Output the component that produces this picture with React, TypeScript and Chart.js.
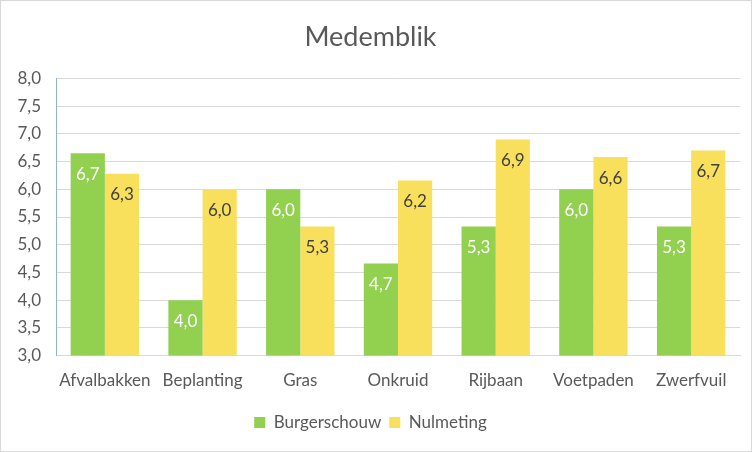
import React, { useEffect, useRef } from "react";
import { Chart, registerables } from "chart.js";

Chart.register(...registerables);

const categories = ["Afvalbakken", "Beplanting", "Gras", "Onkruid", "Rijbaan", "Voetpaden", "Zwerfvuil"];
const burgerschouw = [6.65, 4.0, 6.0, 4.66, 5.33, 6.0, 5.33];
const nulmeting = [6.28, 6.0, 5.33, 6.16, 6.9, 6.58, 6.7];
const seriesNames = ["Burgerschouw", "Nulmeting"];
const chartTitle = "Medemblik";

const FONT = "Lato, 'Open Sans', sans-serif";
const fmt = (v: number) => v.toFixed(1).replace(".", ",");

const labelPlugin = {
  id: "barLabels",
  afterDatasetsDraw(chart: any) {
    const ctx = chart.ctx;
    ctx.save();
    ctx.font = `17px ${FONT}`;
    ctx.textAlign = "center";
    ctx.textBaseline = "middle";
    chart.data.datasets.forEach((ds: any, di: number) => {
      const meta = chart.getDatasetMeta(di);
      meta.data.forEach((bar: any, i: number) => {
        ctx.fillStyle = di === 0 ? "#FFFFFF" : "#404040";
        ctx.fillText(fmt(ds.data[i]), bar.x, bar.y + 21);
      });
    });
    ctx.restore();
  },
};

export default function App() {
  const ref = useRef<HTMLCanvasElement>(null);
  useEffect(() => {
    document.body.style.margin = "0";
    const chart = new Chart(ref.current!, {
      type: "bar",
      data: {
        labels: categories,
        datasets: [
          { label: seriesNames[0], data: burgerschouw, backgroundColor: "#92D050", categoryPercentage: 0.7, barPercentage: 1.0 },
          { label: seriesNames[1], data: nulmeting, backgroundColor: "#F8E05C", categoryPercentage: 0.7, barPercentage: 1.0 },
        ],
      },
      options: {
        animation: false,
        responsive: false,
        maintainAspectRatio: false,
        layout: { padding: { left: 0, right: 11, top: 0, bottom: 10 } },
        plugins: {
          title: {
            display: true,
            text: chartTitle,
            color: "#595959",
            font: { family: FONT, size: 27, weight: "normal" },
            padding: { top: 20, bottom: 25 },
          },
          legend: {
            position: "bottom",
            labels: {
              color: "#595959",
              font: { family: FONT, size: 17 },
              boxWidth: 11,
              boxHeight: 11,
              padding: 8,
            },
          },
          tooltip: { enabled: false },
        },
        scales: {
          x: {
            grid: { display: false, drawTicks: false },
            border: { color: "#D9D9D9" },
            ticks: { color: "#595959", font: { family: FONT, size: 17 }, padding: 15 },
          },
          y: {
            min: 3,
            max: 8,
            afterFit: (s: any) => { s.width = 55; },
            grid: { color: "#D9D9D9", drawTicks: false },
            border: { color: "#8EB4CC" },
            ticks: {
              stepSize: 0.5,
              color: "#595959",
              font: { family: FONT, size: 17 },
              padding: 15,
              callback: (v: any) => fmt(Number(v)),
            },
          },
        },
      },
      plugins: [labelPlugin],
    });
    return () => chart.destroy();
  }, []);
  return (
    <div style={{ position: "fixed", left: 0, top: 0, width: 752, height: 452, boxSizing: "border-box", border: "1px solid #D9D9D9", background: "#fff" }}>
      <canvas ref={ref} width={750} height={450} style={{ display: "block" }} />
    </div>
  );
}
